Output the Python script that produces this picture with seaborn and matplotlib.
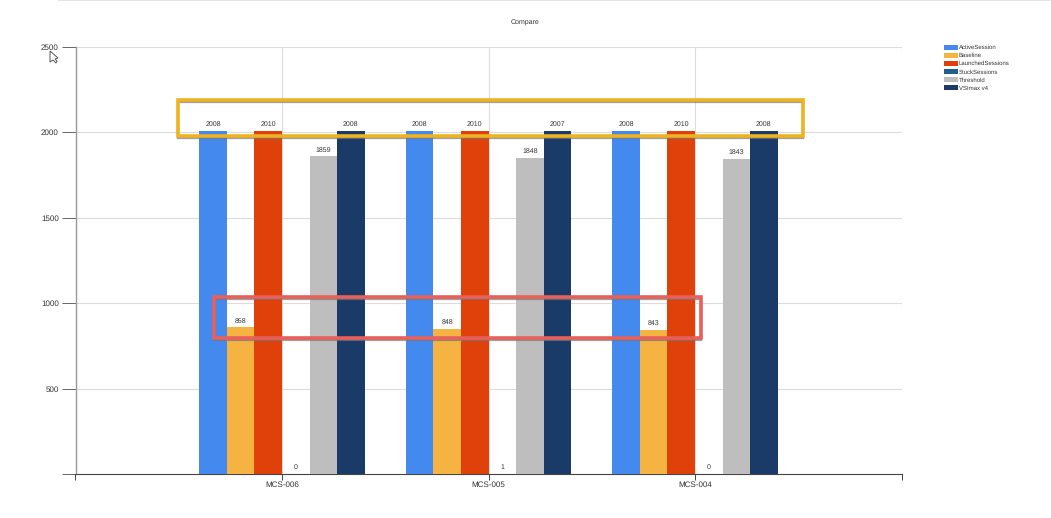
import matplotlib
matplotlib.use("Agg")
import matplotlib.pyplot as plt
from matplotlib.patches import Rectangle, Polygon
from matplotlib.transforms import Affine2D
import pandas as pd
import seaborn as sns

categories = ["MCS-006", "MCS-005", "MCS-004"]
series = ["ActiveSession", "Baseline", "LaunchedSessions", "StuckSessions", "Threshold", "VSImax v4"]
active = [2008, 2008, 2008]
baseline = [858, 848, 843]
launched = [2010, 2010, 2010]
stuck = [0, 1, 0]
threshold = [1859, 1848, 1843]
vsimax = [2008, 2007, 2008]
colors = ["#4489EE", "#F5B342", "#E0400A", "#1F5F8B", "#BEBEBE", "#1A3A68"]
yticks = [0, 500, 1000, 1500, 2000, 2500]
ylabels = ["", "500", "1000", "1500", "2000", "2500"]

W, H = 1051, 518
sns.set_theme(style="white")
plt.rcParams["font.family"] = ["Liberation Sans", "DejaVu Sans"]
plt.rcParams["text.hinting"] = "no_hinting"
plt.rcParams["text.hinting_factor"] = 1

df = pd.DataFrame({"cat": categories, series[0]: active, series[1]: baseline, series[2]: launched,
                   series[3]: stuck, series[4]: threshold, series[5]: vsimax})
long = df.melt(id_vars="cat", var_name="series", value_name="value")

fig = plt.figure(figsize=(W / 100, H / 100), dpi=100, facecolor="white")
ax = fig.add_axes([75.5 / W, 1 - 474 / H, (902 - 76) / W, (474 - 47) / H])
sns.barplot(data=long, x="cat", y="value", hue="series", order=categories, hue_order=series,
            palette=colors, saturation=1, width=0.8, gap=0, ax=ax, errorbar=None, zorder=3,
            linewidth=0, edgecolor="none")
ax.set_xlim(-1, 3)
ax.set_ylim(0, 2500)
ax.set_xlabel("")
ax.set_ylabel("")
ax.set_xticks([-1, 0, 1, 2, 3], ["", *categories, ""])
ax.set_yticks(yticks, ylabels)
ax.tick_params(axis="x", length=4, width=0.7, color="#444444", labelsize=5.6, labelcolor="#333333", pad=1, bottom=True)
ax.tick_params(axis="y", length=10, width=0.7, color="#666666", labelsize=5.6, labelcolor="#333333", pad=2, left=True)
ax.grid(True, color="#DCDCDC", linewidth=0.8, zorder=0)
ax.set_axisbelow(True)
for s in ["top", "right"]:
    ax.spines[s].set_visible(False)
ax.spines["left"].set_color("#999999")
ax.spines["left"].set_linewidth(1)
ax.spines["bottom"].set_color("#444444")
ax.spines["bottom"].set_linewidth(0.8)

for c in ax.containers:
    ax.bar_label(c, fmt="%d", fontsize=5.2, color="#333333", padding=2.5)

handles, labels = ax.get_legend_handles_labels()
leg = ax.legend(handles, labels, loc="upper left", bbox_to_anchor=(944 / W, 1 - 44.6 / H),
                bbox_transform=fig.transFigure, frameon=False, fontsize=4.3, labelspacing=0.39,
                handlelength=2.35, handleheight=0.9, handletextpad=0.15, borderpad=0, borderaxespad=0)
for t in leg.get_texts():
    t.set_color("#333333")

fig.text(525 / W, 1 - 23 / H, "Compare", ha="center", va="center", fontsize=5, color="#333333")

# Overlay annotations of the screenshot, placed in pixel space
px = Affine2D().scale(1, -1).translate(0, H)
def box(x0, y0, x1, y1, color, lw):
    fig.add_artist(Rectangle((x0, y0 + 1.8), x1 - x0, y1 - y0, fill=False, ec="#777777", lw=1.6, transform=px, alpha=.7))
    fig.add_artist(Rectangle((x0, y0), x1 - x0, y1 - y0, fill=False, ec=color, lw=lw, transform=px))
box(178, 100, 803, 136, "#EDB320", 2.6)
box(214, 297, 701, 338, "#E8605A", 2.6)
fig.add_artist(Rectangle((58, -1), 993, 1.5, fc="#E4E4E4", ec="none", transform=px))
fig.add_artist(Polygon([(50, 51), (50, 62), (53, 60), (56, 63), (57, 61), (55, 59), (58, 58)], closed=True,
                       fc="white", ec="#555555", lw=0.7, transform=px))
fig.savefig("out.png", dpi=100)
